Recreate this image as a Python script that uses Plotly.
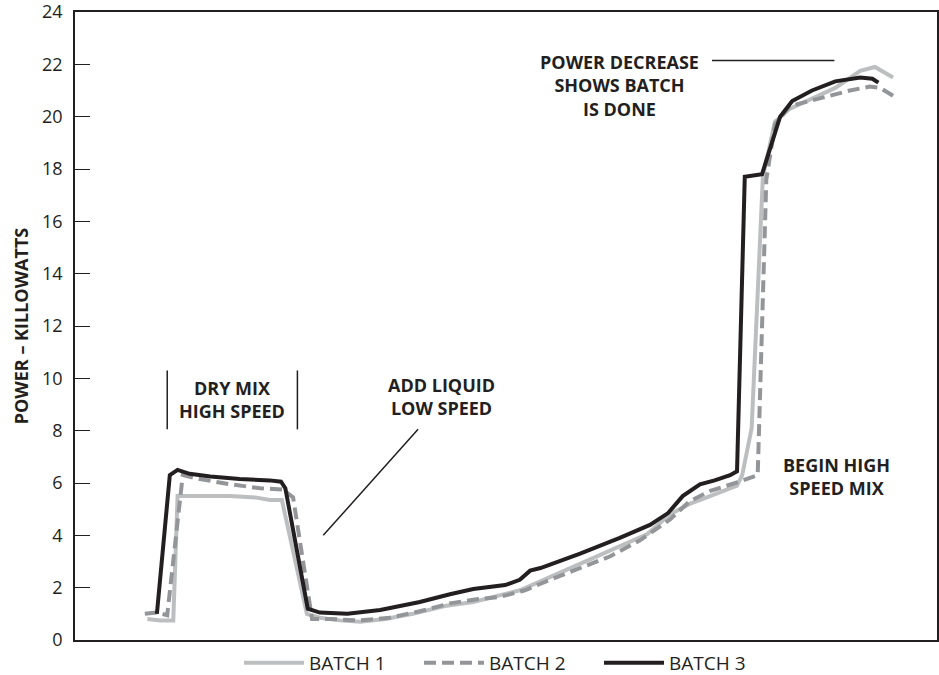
import plotly.graph_objects as go

# time axis (arbitrary units, no ticks shown)
b1_x = [8.4, 9.9, 11.4, 11.9, 14.5, 18.0, 20.9, 22.6, 24.0, 26.9, 28.4, 30.7, 33.1, 36.0, 39.2, 42.9,
        46.2, 49.3, 51.6, 55.1, 58.6, 62.6, 66.4, 69.0, 71.3, 73.3, 75.4, 76.8, 77.4, 78.5, 79.8,
        81.2, 82.9, 85.5, 88.2, 91.1, 92.8, 94.9]
b1_y = [0.8, 0.75, 0.75, 5.5, 5.5, 5.5, 5.45, 5.35, 5.35, 1.0, 0.85, 0.75, 0.7, 0.8, 1.0, 1.3,
        1.45, 1.7, 1.9, 2.4, 2.9, 3.5, 4.05, 4.8, 5.2, 5.45, 5.7, 5.9, 6.3, 8.1, 17.7,
        19.8, 20.3, 20.7, 21.1, 21.75, 21.9, 21.5]

b2_x = [8.1, 9.5, 10.7, 12.5, 14.5, 18.0, 21.5, 24.1, 25.3, 27.5, 29.6, 33.1, 36.5, 40.0, 43.5,
        46.4, 49.3, 52.2, 55.1, 58.6, 62.1, 65.5, 69.0, 71.3, 73.7, 76.6, 79.2, 80.2, 81.2, 82.9,
        86.4, 89.9, 92.2, 93.4, 95.4]
b2_y = [1.0, 1.05, 0.95, 6.3, 6.15, 5.95, 5.8, 5.75, 5.45, 0.8, 0.8, 0.75, 0.85, 1.1, 1.4,
        1.55, 1.65, 1.9, 2.3, 2.75, 3.2, 3.8, 4.6, 5.3, 5.7, 6.0, 6.3, 17.6, 19.7, 20.4,
        20.7, 21.0, 21.15, 21.1, 20.7]

b3_x = [9.5, 11.0, 11.9, 13.3, 15.7, 19.1, 22.6, 23.9, 24.4, 27.0, 28.4, 31.6, 35.4, 40.0, 43.5,
        46.2, 49.9, 51.6, 52.8, 54.0, 58.6, 63.2, 66.7, 68.8, 70.5, 72.5, 74.2, 76.0, 76.8, 77.7,
        79.7, 81.8, 83.2, 85.5, 88.2, 91.1, 92.5, 93.2]
b3_y = [1.0, 6.3, 6.5, 6.35, 6.25, 6.15, 6.1, 6.05, 5.8, 1.2, 1.05, 1.0, 1.15, 1.45, 1.75,
        1.95, 2.1, 2.3, 2.65, 2.75, 3.3, 3.9, 4.4, 4.85, 5.5, 5.95, 6.1, 6.3, 6.45, 17.7,
        17.8, 20.0, 20.6, 21.0, 21.35, 21.5, 21.45, 21.3]

y_ticks = [0, 2, 4, 6, 8, 10, 12, 14, 16, 18, 20, 22, 24]
series_names = ["BATCH 1", "BATCH 2", "BATCH 3"]

INK = "#231f20"
FONT = "Open Sans"

fig = go.Figure()
fig.add_trace(go.Scatter(x=b1_x, y=b1_y, mode="lines", name=series_names[0],
                         line=dict(color="#bcbec0", width=4)))
fig.add_trace(go.Scatter(x=b2_x, y=b2_y, mode="lines", name=series_names[1],
                         line=dict(color="#939598", width=4, dash="12px,6px")))
fig.add_trace(go.Scatter(x=b3_x, y=b3_y, mode="lines", name=series_names[2],
                         line=dict(color=INK, width=4)))

line_style = dict(color=INK, width=1.5)
# DRY MIX bracket lines
fig.add_shape(type="line", x0=10.7, x1=10.7, y0=8.05, y1=10.3, line=line_style)
fig.add_shape(type="line", x0=25.8, x1=25.8, y0=8.05, y1=10.3, line=line_style)
# ADD LIQUID leader
fig.add_shape(type="line", x0=39.8, x1=28.8, y0=8.05, y1=4.0, line=line_style)
# POWER DECREASE leader
fig.add_shape(type="line", x0=73.9, x1=88.1, y0=22.15, y1=22.15, line=line_style)

afont = dict(family=FONT, size=18, color=INK)


def add_block(x, y, lines):
    fig.add_annotation(x=x, y=y, text="<b>" + "<br>".join(lines) + "</b>", showarrow=False,
                       font=afont, align="center", borderpad=0, borderwidth=0)


add_block(18.2, 9.21, ["DRY MIX", "HIGH SPEED"])
add_block(42.5, 9.32, ["ADD LIQUID", "LOW SPEED"])
add_block(63.2, 21.2, ["POWER DECREASE", "SHOWS BATCH", "IS DONE"])
add_block(88.3, 6.23, ["BEGIN HIGH", "SPEED MIX"])

fig.update_layout(
    width=939, height=675,
    margin=dict(l=75, r=2, t=12, b=35),
    paper_bgcolor="white", plot_bgcolor="white",
    font=dict(family=FONT, color=INK),
    showlegend=True,
    legend=dict(orientation="h", x=(239 - 75) / 862, xanchor="left",
                yref="container", y=12 / 675, yanchor="middle",
                font=dict(family=FONT, size=19, color=INK), itemwidth=60,
                entrywidth=105, entrywidthmode="pixels",
                traceorder="normal"),
    xaxis=dict(range=[0, 100], showticklabels=False, ticks="", showgrid=False, zeroline=False,
               showline=True, linecolor=INK, linewidth=1.5, mirror=True, automargin=False),
    yaxis=dict(range=[0, 24], tickvals=y_ticks, ticks="inside", ticklen=15, tickcolor=INK,
               tickwidth=1, showgrid=False, zeroline=False, showline=True, linecolor=INK,
               linewidth=1.5, mirror=True, automargin=False, ticklabeloverflow="allow",
               ticklabelstandoff=7,
               tickfont=dict(family=FONT, size=18, color=INK),
               title=dict(text="<b>POWER – KILLOWATTS</b>", standoff=9,
                          font=dict(family=FONT, size=18, color=INK))),
)

fig.write_html("out.html", config={"displayModeBar": False},
               post_script="document.body.style.margin='0';document.body.style.padding='0';"
                           "document.documentElement.style.overflow='hidden';")
